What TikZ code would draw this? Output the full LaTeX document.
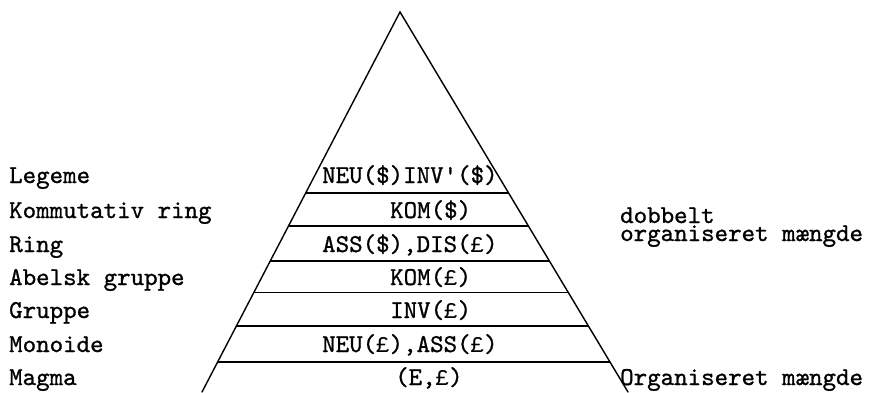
\documentclass[tikz,border=0pt]{standalone}
\usepackage{fontspec}
\newfontfamily\typew{lmmono10-regular.otf}[FakeBold=1]
\newfontfamily\lmono{Liberation Mono}
\newcommand\pnd{{\fontsize{22.5}{17}\lmono £}}
\usetikzlibrary{calc}
\tikzset{
  edge/.style={line width=1.4pt, line cap=round},
  rung/.style={line width=1.3pt},
  lbl/.style={anchor=base west, inner sep=0pt, font=\typew\fontsize{25.7}{18}\selectfont},
}
\begin{document}
\begin{tikzpicture}[x=1pt, y=-1pt]
\useasboundingbox (0,0) rectangle (869,393);
\coordinate (A) at (400,12);
\coordinate (BL) at (202,392);
\coordinate (BR) at (628,392);
\draw[edge] (BL) -- (A) -- (BR);
% rungs
\foreach \t [count=\i] in {0.476,0.563,0.655,0.739,0.826,0.921}{
  \coordinate (L\i) at ($(A)!\t!(BL)$);
  \coordinate (R\i) at ($(A)!\t!(BR)$);
  \draw[rung] (L\i) -- (R\i);
}
% left labels
\node[lbl] (legeme) at (9,183) {Legeme};
\node[lbl] (komring) at (9,218) {Kommutativ ring};
\node[lbl] (ring) at (9,252) {Ring};
\node[lbl] (abel) at (9,285) {Abelsk gruppe};
\node[lbl] (gruppe) at (9,318) {Gruppe};
\node[lbl] (monoide) at (9,352) {Monoide};
\node[lbl] (magma) at (9,385) {Magma};
% pyramid labels
\node[lbl] (p1) at (322,183) {NEU(\$)INV\textquotesingle(\$)};
\node[lbl] (p2) at (390,218) {KOM(\$)};
\node[lbl] (p3) at (322,252) {ASS(\$),DIS(\pnd)};
\node[lbl] (p4) at (390,285) {KOM(\pnd)};
\node[lbl] (p5) at (390,318) {INV(\pnd)};
\node[lbl] (p6) at (322,352) {NEU(\pnd),ASS(\pnd)};
\node[lbl] (p7) at (395,385) {(E,\pnd)};
% right labels
\node[lbl, align=left] (dob) at (620,241) {dobbelt\\organiseret mængde};
\node[lbl] (org) at (620,385) {Organiseret mængde};
\end{tikzpicture}
\end{document}
